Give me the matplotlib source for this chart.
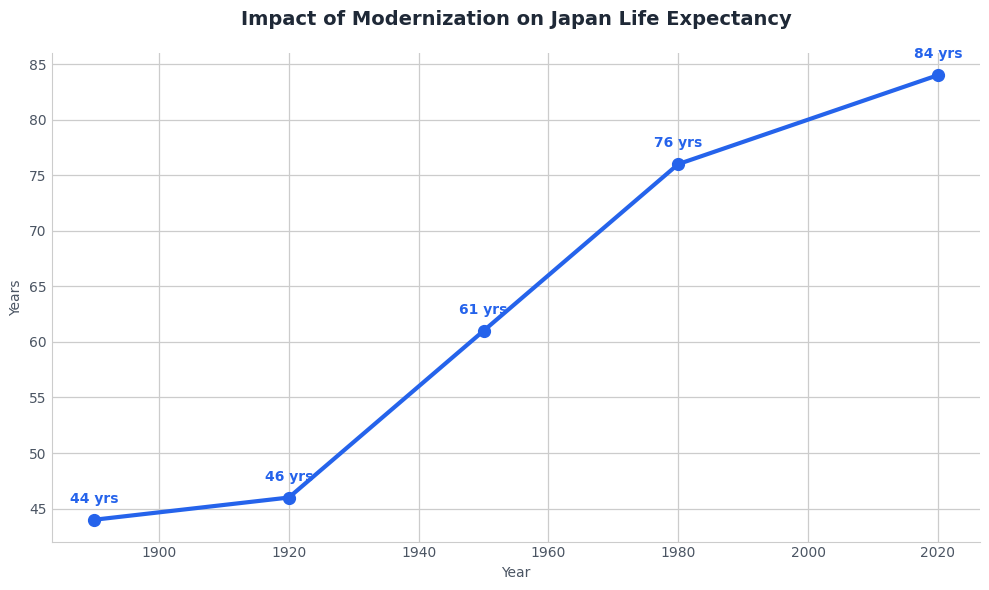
import matplotlib
matplotlib.use("Agg")
import matplotlib.pyplot as plt

years = [1890, 1920, 1950, 1980, 2020]
life_exp = [44, 46, 61, 76, 84]
labels = [f"{v} yrs" for v in life_exp]

BLUE = "#2563EB"
TEXT = "#4B5563"

fig = plt.figure(figsize=(9.89, 5.9), dpi=100)
ax = fig.add_axes([0.0526, 0.0814, 0.9383, 0.8288])

ax.plot(years, life_exp, color=BLUE, linewidth=3, marker="o", markersize=8.5,
        zorder=3)
for x, y, lab in zip(years, life_exp, labels):
    ax.annotate(lab, (x, y), xytext=(0, 10), textcoords="offset points",
                ha="center", va="bottom", fontsize=10, fontweight="bold",
                color=BLUE)

ax.set_title("Impact of Modernization on Japan Life Expectancy", fontsize=14,
             fontweight="bold", color="#1F2937", pad=20)
ax.set_xlabel("Year", fontsize=10, color=TEXT, labelpad=4)
ax.set_ylabel("Years", fontsize=10, color=TEXT, labelpad=4)
ax.grid(True, color="#CCCCCC", linewidth=0.9)
ax.set_axisbelow(True)
ax.tick_params(axis="x", length=0, labelsize=10, labelcolor=TEXT, pad=3)
ax.tick_params(axis="y", length=0, labelsize=10, labelcolor=TEXT, pad=4)
for s in ["top", "right"]:
    ax.spines[s].set_visible(False)
for s in ["left", "bottom"]:
    ax.spines[s].set_color("#CCCCCC")

fig.savefig("out.png", dpi=100)
